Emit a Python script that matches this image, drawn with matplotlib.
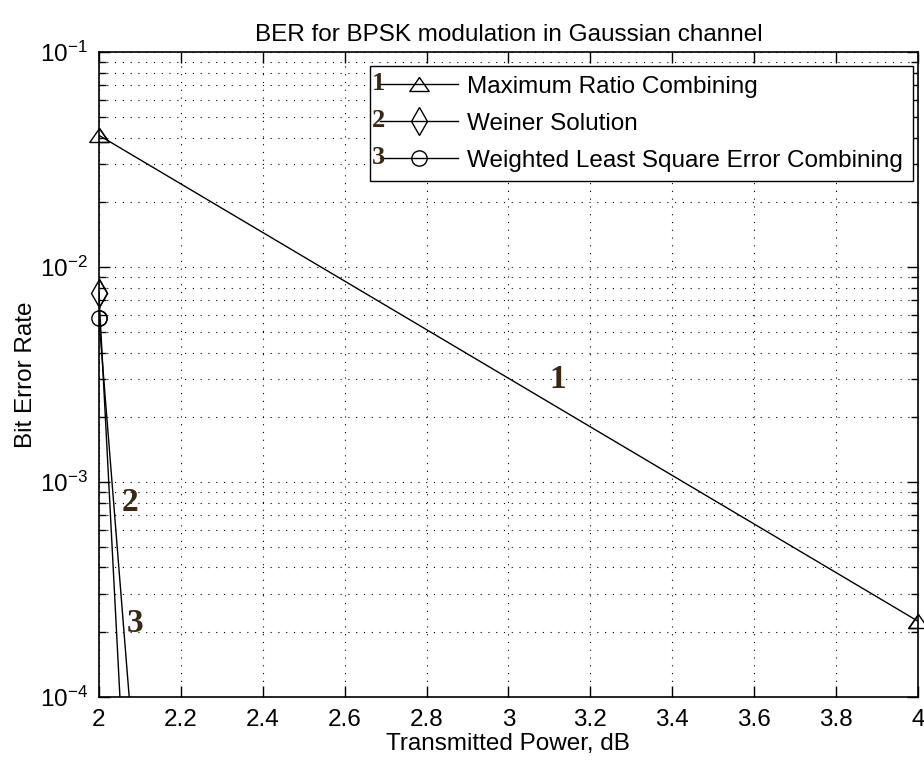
import matplotlib
matplotlib.use('Agg')
import matplotlib.pyplot as plt
from matplotlib.ticker import LogLocator, NullFormatter, MultipleLocator

# data
power_db = [2.0, 4.0]
ber_mrc = [4.1e-2, 2.25e-4]
ber_weiner = [7.6e-3, 5e-76]
ber_wlse = [5.8e-3, 1.3e-50]
legend_names = ['Maximum Ratio Combining', 'Weiner Solution',
                'Weighted Least Square Error Combining']
curve_tags = ['1', '2', '3']

plt.rcParams['font.family'] = ['Liberation Sans', 'DejaVu Sans']
plt.rcParams['mathtext.fontset'] = 'custom'
plt.rcParams['mathtext.rm'] = 'Liberation Sans'

FS = 17.5

fig = plt.figure(figsize=(9.24, 7.65), dpi=100)
ax = fig.add_axes([0.107, 0.089, 0.8865, 0.843])

# matlab-ish triangle: wider than tall
tri = [(0, 0.72), (-1, -0.72), (1, -0.72), (0, 0.72)]
series = [(ber_mrc, tri, 14), (ber_weiner, 'd', 14), (ber_wlse, 'o', 11)]
for (yv, m, s), name in zip(series, legend_names):
    ax.plot(power_db, yv, color='k', lw=1.0, marker=m, ms=s, mfc='none',
            mec='k', mew=1.0, label=name)
    # markers drawn again unclipped, like matlab does at the axes edge
    ax.plot(power_db, yv, ls='none', marker=m, ms=s, mfc='none', mec='k',
            mew=1.0, clip_on=False)

ax.set_yscale('log')
ax.set_xlim(2, 4)
ax.set_ylim(1e-4, 1e-1)
ax.xaxis.set_major_locator(MultipleLocator(0.2))
ax.xaxis.set_major_formatter(plt.FuncFormatter(lambda v, p: ('%g' % round(v, 2))))
ax.yaxis.set_major_locator(LogLocator(base=10))
ax.yaxis.set_minor_locator(LogLocator(base=10, subs=range(2, 10)))
ax.yaxis.set_minor_formatter(NullFormatter())

grid_ls = (0, (1, 6))
ax.grid(True, which='major', axis='both', color='k', ls=grid_ls, lw=0.8)
ax.grid(True, which='minor', axis='y', color='k', ls=grid_ls, lw=0.8)

ax.tick_params(which='both', direction='in', top=True, right=True, labelsize=FS, colors='k')
ax.tick_params(which='major', length=8, width=1)
ax.tick_params(which='minor', length=5, width=1)
ax.tick_params(axis='x', pad=9)
ax.tick_params(axis='y', pad=8)
for s in ax.spines.values():
    s.set_linewidth(1.2)

ax.set_title('BER for BPSK modulation in Gaussian channel', fontsize=FS, pad=8)
ax.set_xlabel('Transmitted Power, dB', fontsize=FS, labelpad=1)
ax.set_ylabel('Bit Error Rate', fontsize=FS, labelpad=2)

leg = ax.legend(loc='upper right', bbox_to_anchor=(0.994, 0.978), fontsize=FS,
                fancybox=False, framealpha=1, edgecolor='k', handlelength=3.2,
                handletextpad=0.4, labelspacing=0.61, borderpad=0.4, borderaxespad=0)
leg.get_frame().set_linewidth(1.0)

tag_style = dict(family=['Liberation Serif', 'DejaVu Serif'], fontweight='bold',
                 color='#3a2810', ha='center', va='center')
# tags next to the curves
ax.text(3.12, 3.0e-3, curve_tags[0], fontsize=24, **tag_style)
ax.text(2.076, 8.0e-4, curve_tags[1], fontsize=24, **tag_style)
ax.text(2.088, 2.2e-4, curve_tags[2], fontsize=24, **tag_style)
# tags inside the legend, on its left border
fig.canvas.draw()
bb = leg.get_window_extent()
handles = leg.get_lines()
for t, h in zip(curve_tags, handles):
    hy = h.get_window_extent().y0 + h.get_window_extent().height / 2
    fig.text((bb.x0 + 8) / fig.bbox.width, (hy + 1) / fig.bbox.height, t,
             fontsize=19, **tag_style)

fig.savefig('out.png', dpi=100)
